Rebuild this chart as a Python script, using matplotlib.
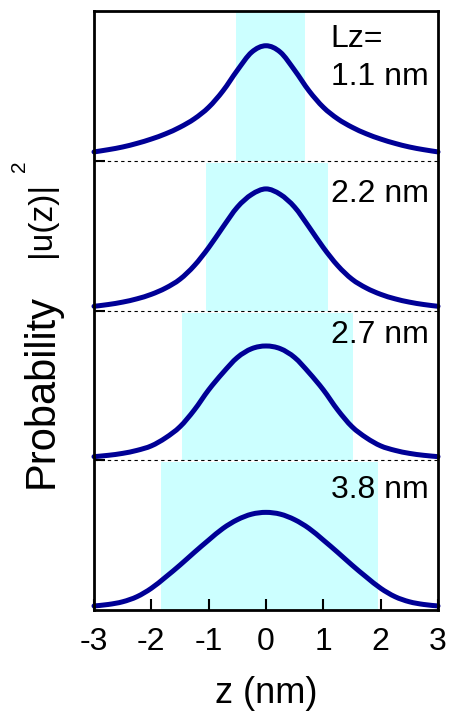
import matplotlib
matplotlib.use("Agg")
import matplotlib.pyplot as plt
from matplotlib.path import Path
from matplotlib.patches import PathPatch
import numpy as np

plt.rcParams["font.family"] = ["Liberation Sans", "DejaVu Sans"]

z_pts = [-3, -2.75, -2.5, -2.25, -2, -1.75, -1.5, -1.25, -1, -0.75, -0.5, -0.25,
         0, 0.25, 0.5, 0.75, 1, 1.25, 1.5, 1.75, 2, 2.25, 2.5, 2.75, 3]

# |u(z)|^2 for each well width, top panel first
prob_11 = [0.059, 0.074, 0.092, 0.116, 0.145, 0.180, 0.224, 0.280, 0.357, 0.467, 0.604, 0.725,
           0.768, 0.725, 0.604, 0.467, 0.357, 0.280, 0.224, 0.180, 0.145, 0.116, 0.092, 0.074, 0.059]
prob_22 = [0.028, 0.040, 0.056, 0.078, 0.108, 0.150, 0.209, 0.300, 0.420, 0.558, 0.690, 0.775,
           0.812, 0.775, 0.690, 0.558, 0.420, 0.300, 0.209, 0.150, 0.108, 0.078, 0.056, 0.040, 0.028]
prob_27 = [0.024, 0.033, 0.046, 0.066, 0.096, 0.150, 0.224, 0.336, 0.470, 0.585, 0.686, 0.745,
           0.763, 0.745, 0.686, 0.585, 0.470, 0.336, 0.224, 0.150, 0.096, 0.066, 0.046, 0.033, 0.024]
prob_38 = [0.027, 0.037, 0.055, 0.089, 0.145, 0.220, 0.300, 0.385, 0.467, 0.545, 0.603, 0.640,
           0.652, 0.640, 0.603, 0.545, 0.467, 0.385, 0.300, 0.220, 0.145, 0.089, 0.055, 0.037, 0.027]
curves = [prob_11, prob_22, prob_27, prob_38]

labels = ["1.1 nm", "2.2 nm", "2.7 nm", "3.8 nm"]
well_lo = [-0.53, -1.05, -1.47, -1.83]
well_hi = [0.68, 1.08, 1.52, 1.95]
offsets = [3, 2, 1, 0]
label_y = [3.506, 2.725, 1.783, 0.748]

xticks = [-3, -2, -1, 0, 1, 2, 3]


def smooth_path(x, y):
    # catmull-rom through the read points, drawn as bezier segments
    pts = np.column_stack([x, y])
    ext = np.vstack([pts[0], pts, pts[-1]])
    verts = [pts[0]]
    codes = [Path.MOVETO]
    for k in range(1, len(ext) - 2):
        p0, p1, p2, p3 = ext[k - 1], ext[k], ext[k + 1], ext[k + 2]
        verts += [p1 + (p2 - p0) / 6, p2 - (p3 - p1) / 6, p2]
        codes += [Path.CURVE4] * 3
    return Path(verts, codes)


fs = 23
fig = plt.figure(figsize=(4.49, 7.14), dpi=100)
ax = fig.add_axes([94/449, 104/714, 344/449, 599/714])

for i in range(4):
    off = offsets[i]
    top = off + 1 if off == 3 else off + 0.985
    ax.fill_between([well_lo[i], well_hi[i]], off, top, color="#ccffff", lw=0, zorder=1)
    p = smooth_path(z_pts, np.array(curves[i]) + off)
    ax.add_patch(PathPatch(p, fill=False, edgecolor="#000096", lw=3.6,
                           joinstyle="round", capstyle="round", zorder=4, clip_on=False))
    ax.text(1.13, label_y[i], labels[i], fontsize=fs, va="baseline", ha="left", zorder=5)

ax.text(1.13, 3.762, "Lz=", fontsize=fs, va="baseline", ha="left", zorder=5)

for off in [1, 2, 3]:
    ax.axhline(off, color="black", lw=0.8, ls=(0, (3, 3)), zorder=3)

ax.set_xlim(-3, 3)
ax.set_ylim(0, 4)
ax.set_xticks(xticks)
ax.set_xticklabels([str(t) for t in xticks], fontsize=fs)
ax.set_yticks([1, 2, 3])
ax.set_yticklabels([])
ax.tick_params(axis="x", direction="in", length=8, width=1.5, pad=12)
ax.tick_params(axis="y", direction="in", length=8, width=1.5)
for s in ax.spines.values():
    s.set_linewidth(2)
    s.set_zorder(6)

ax.set_xlabel("z (nm)", fontsize=26, labelpad=14)

# y label in pieces: word, |u(z)| and the raised 2
fig.text(42/449, 1 - 488/714, "Probability", rotation=90, fontsize=30,
         ha="center", va="bottom")
fig.text(42/449, 1 - 182/714, "|u(z)|", rotation=90, fontsize=24,
         ha="center", va="top")
fig.text(19/449, 1 - 166/714, "2", rotation=90, fontsize=15,
         ha="center", va="center")

fig.savefig("out.png", dpi=100)
